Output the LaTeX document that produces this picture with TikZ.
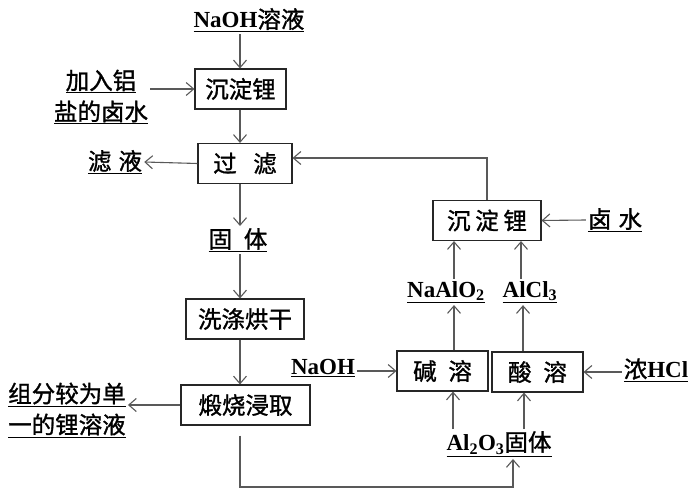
\documentclass[tikz,border=0pt]{standalone}
\usepackage{fontspec}
\setmainfont{Liberation Serif}
\newfontfamily\cjk{Noto Sans CJK SC}[FakeBold=1.2]
\usetikzlibrary{arrows.meta}
\newcommand{\zh}[1]{{\cjk #1}}
\newcommand{\la}[1]{{\bfseries #1}}
\begin{document}
\begin{tikzpicture}[x=1pt,y=-1pt,
  box/.style={draw=black!85,line width=1.1pt,minimum height=40pt,inner sep=0pt,font=\cjk\fontsize{23.5}{26}\selectfont},
  lab/.style={inner sep=2pt,font=\fontsize{23.5}{31}\selectfont,align=center},
  arr/.style={draw=black!65,line width=1.1pt,-{Straight Barb[length=7.5pt,width=13pt]}}]
\useasboundingbox (0,0) rectangle (700,497);
% boxes
\node[box,minimum width=91pt] (b1) at (240.5,89) {沉淀锂};
\node[box,minimum width=94pt] (b2) at (245,163.5) {过\hspace{0.7em}滤};
\node[box,minimum width=118pt] (b3) at (245,319) {洗涤烘干};
\node[box,minimum width=129pt] (b4) at (245.5,405) {煅烧浸取};
\node[box,minimum width=108pt] (b5) at (487,220.5) {沉\hspace{0.2em}淀\hspace{0.2em}锂};
\node[box,minimum width=91pt] (b6) at (442.5,371) {碱\hspace{0.5em}溶};
\node[box,minimum width=91pt] (b7) at (537.5,372) {酸\hspace{0.5em}溶};
% labels
\node[lab] (tNaOH1) at (249,20) {\underline{\la{\fontsize{23}{26}\selectfont NaOH}\zh{溶液}}};
\node[lab] (tAdd) at (101,97) {\underline{\zh{加入铝}}\\\underline{\zh{盐的卤水}}};
\node[lab] (tFilt) at (115,162) {\underline{\zh{滤\hspace{0.3em}液}}};
\node[lab] (tSolid) at (238,240) {\underline{\zh{固\hspace{0.5em}体}}};
\node[lab] (tSingle) at (67,410) {\underline{\zh{组分较为单}}\\\underline{\zh{一的锂溶液}}};
\node[lab] (tNaOH2) at (323,368) {\underline{\la{\fontsize{23}{26}\selectfont NaOH}}};
\node[lab] (tHCl) at (656,370) {\underline{\zh{浓}\la{\fontsize{23}{26}\selectfont HCl}}};
\node[lab] (tAl) at (499,444) {\underline{\la{\fontsize{23}{26}\selectfont Al\textsubscript{2}O\textsubscript{3}}\zh{固体}}};
\node[lab] (tNaAlO2) at (446,292) {\underline{\la{\fontsize{23}{26}\selectfont NaAlO\textsubscript{2}}}};
\node[lab] (tAlCl3) at (530,292) {\underline{\la{\fontsize{23}{26}\selectfont AlCl\textsubscript{3}}}};
\node[lab] (tLu) at (615,220) {\underline{\zh{卤\hspace{0.3em}水}}};
% connectors
\draw[arr] (240,0 |- tNaOH1.south) -- (240,0 |- b1.north);
\draw[arr] (tAdd.east |- b1.west) -- (b1.west);
\draw[arr] (240,0 |- b1.south) -- (240,0 |- b2.north);
\draw[arr] (b2.west) -- (tFilt.east);
\draw[arr] (b5.north) -- (487,158) -- (b2.east |- 0,158);
\draw[arr] (240,0 |- b2.south) -- (240,0 |- tSolid.north);
\draw[arr] (240,0 |- tSolid.south) -- (240,0 |- b3.north);
\draw[arr] (240,0 |- b3.south) -- (240,0 |- b4.north);
\draw[arr] (b4.west) -- (tSingle.east |- b4.west);
\draw[arr] ([yshift=-10pt]240,0 |- b4.south) -- (240,487) -- (513,487) -- (513,0 |- tAl.south);
\draw[arr] (453,0 |- tAl.north) -- (453,0 |- b6.south);
\draw[arr] (524,0 |- tAl.north) -- (524,0 |- b7.south);
\draw[arr] (tNaOH2.east |- b6.west) -- (b6.west);
\draw[arr] (tHCl.west |- b7.east) -- (b7.east);
\draw[arr] (454,0 |- b6.north) -- (454,0 |- tNaAlO2.south);
\draw[arr] (523,0 |- b7.north) -- (523,0 |- tAlCl3.south);
\draw[arr] (454,0 |- tNaAlO2.north) -- (454,0 |- b5.south);
\draw[arr] (521,0 |- tAlCl3.north) -- (521,0 |- b5.south);
\draw[arr] (tLu.west) -- (b5.east);
\end{tikzpicture}
\end{document}
